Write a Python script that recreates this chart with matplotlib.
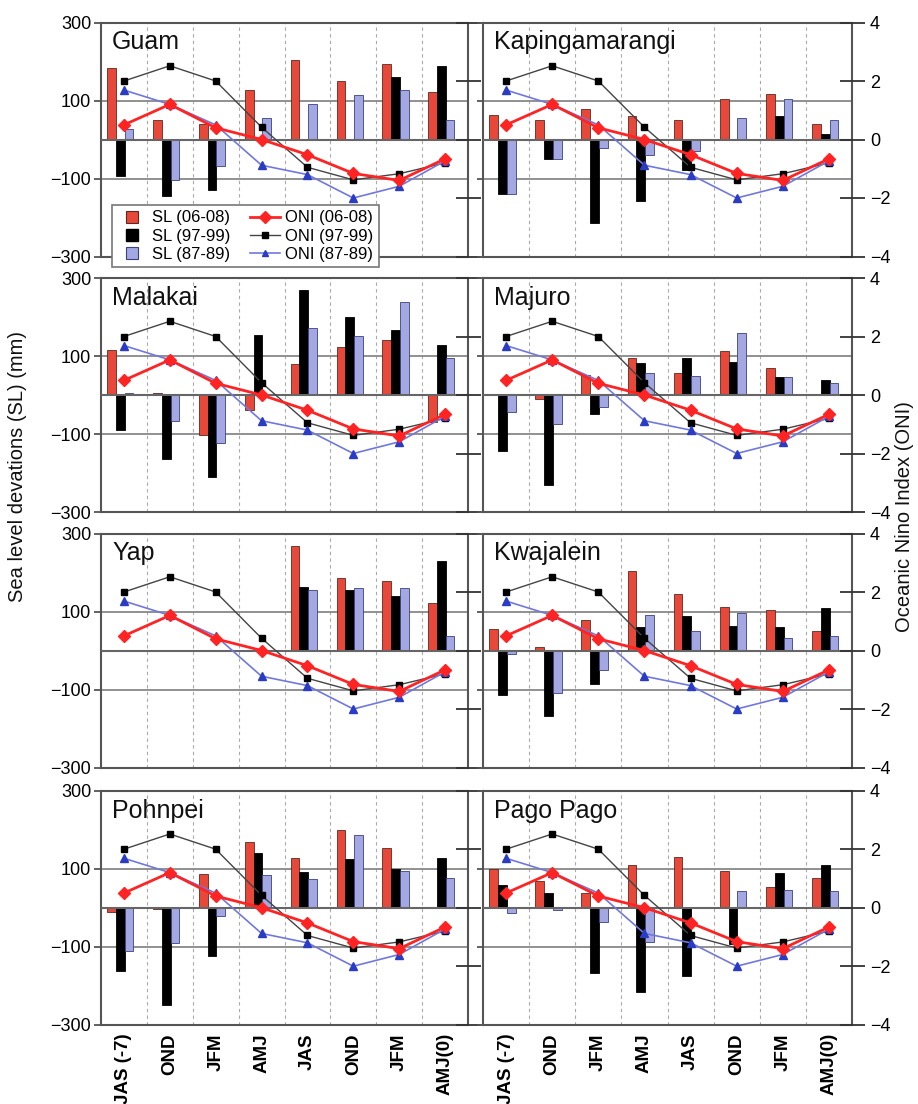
import numpy as np
import matplotlib.pyplot as plt
from matplotlib.lines import Line2D

plt.rcParams['font.family'] = ['Liberation Sans', 'DejaVu Sans']

nan = np.nan

# seasons (x axis)
months = ["JAS (-7)", "OND", "JFM", "AMJ", "JAS", "OND", "JFM", "AMJ(0)"]

# Oceanic Nino Index, same in every panel
oni_0608 = [0.5, 1.2, 0.4, 0.0, -0.52, -1.16, -1.4, -0.66]
oni_9799 = [2.0, 2.52, 2.0, 0.42, -0.95, -1.38, -1.17, -0.8]
oni_8789 = [1.69, 1.2, 0.5, -0.88, -1.2, -2.0, -1.6, -0.73]

# sea level deviations (mm) per station
guam_0608 = [183, 49, 40, 128, 204, 149, 194, 123]
guam_9799 = [-94, -144, -129, nan, nan, nan, 160, 188]
guam_8789 = [27, -105, -69, 55, 90, 115, 126, 51]

kap_0608 = [62, 51, 79, 60, 51, 103, 117, 40]
kap_9799 = [-141, -51, -215, -158, -77, -2, 60, 15]
kap_8789 = [-141, -51, -23, -41, -30, 54, 103, 49]

mal_0608 = [115, 5, -103, -38, 79, 124, 141, -68]
mal_9799 = [-90, -164, -209, 154, 268, 201, 167, 128]
mal_8789 = [6, -67, -124, nan, 171, 151, 238, 94]

maj_0608 = [nan, -11, 51, 94, 56, 113, 68, nan]
maj_9799 = [-144, -231, -49, 83, 96, 85, 45, 38]
maj_8789 = [-44, -75, -32, 56, 50, 160, 47, 30]

yap_0608 = [nan, nan, nan, nan, 268, 185, 179, 123]
yap_9799 = [nan, nan, nan, nan, 164, 156, 139, 229]
yap_8789 = [nan, nan, nan, nan, 156, 159, 159, 37]

kwa_0608 = [55, 8, 78, 204, 146, 112, 103, 50]
kwa_9799 = [-113, -168, -86, 61, 88, 62, 59, 108]
kwa_8789 = [-8, -108, -50, 92, 50, 97, 33, 37]

poh_0608 = [-10, -4, 86, 168, 128, 199, 154, nan]
poh_9799 = [-162, -250, -124, 141, 91, 125, 98, 128]
poh_8789 = [-111, -91, -21, 85, 74, 186, 95, 77]

pago_0608 = [98, 68, 37, 110, 130, 94, 52, 76]
pago_9799 = [58, 37, -168, -217, -176, -94, 89, 109]
pago_8789 = [-13, -7, -37, -87, nan, 42, 45, 43]

stations = [
    ("Guam", guam_0608, guam_9799, guam_8789),
    ("Kapingamarangi", kap_0608, kap_9799, kap_8789),
    ("Malakai", mal_0608, mal_9799, mal_8789),
    ("Majuro", maj_0608, maj_9799, maj_8789),
    ("Yap", yap_0608, yap_9799, yap_8789),
    ("Kwajalein", kwa_0608, kwa_9799, kwa_8789),
    ("Pohnpei", poh_0608, poh_9799, poh_8789),
    ("Pago Pago", pago_0608, pago_9799, pago_8789),
]

red = '#e8483a'
blue_bar = '#a3a8e2'
red_line = '#ff2424'
blue_line = '#7178dc'
blue_mk = '#2a3cc4'

W, H = 918, 1104
fig = plt.figure(figsize=(W / 100, H / 100), dpi=100)

col_left = [101, 483]
col_width = [367, 369]
row_top = [22.5, 278, 533.5, 790.7]
ax_h = 234

x = np.arange(len(months))
bw = 0.19

for k, (name, sl1, sl2, sl3) in enumerate(stations):
    row, col = k // 2, k % 2
    rect = [col_left[col] / W, 1 - (row_top[row] + ax_h) / H,
            col_width[col] / W, ax_h / H]
    ax = fig.add_axes(rect)
    ax.set_xlim(-0.5, 7.5)
    ax.set_ylim(-300, 300)

    # grid
    for xv in np.arange(0.5, 7.5, 1):
        ax.axvline(xv, color='#aaaaaa', lw=0.8, ls=(0, (3, 3)), zorder=0)
    for yv in (-100, 100):
        ax.axhline(yv, color='#888888', lw=1.3, zorder=1)
    ax.axhline(0, color='#666666', lw=1.5, zorder=3)

    ax.bar(x - 0.27, sl1, bw, color=red, edgecolor='#5a2a20', lw=0.6, zorder=2)
    ax.bar(x - 0.08, sl2, bw, color='black', edgecolor='black', lw=0.6, zorder=2)
    ax.bar(x + 0.11, sl3, bw, color=blue_bar, edgecolor='#3a4080', lw=0.6, zorder=2)

    for s in ax.spines.values():
        s.set_color('#555555')
        s.set_linewidth(1.5)

    ax.set_yticks([-300, -100, 100, 300])
    ax.set_xticks(x)
    if col == 0:
        ax.tick_params(axis='y', direction='out', length=5, width=1.3,
                       color='#555555', labelsize=13, pad=2)
    else:
        ax.tick_params(axis='y', direction='out', length=4, width=1.3,
                       color='#555555', labelleft=False)
    if row == 3:
        ax.set_xticklabels(months, rotation=90, fontsize=13.5, fontweight='bold')
        ax.tick_params(axis='x', length=0, pad=6)
    else:
        ax.tick_params(axis='x', length=0, labelbottom=False)

    ax.text(0.03, 0.885, name, transform=ax.transAxes, fontsize=18,
            ha='left', va='baseline', color='#111111', zorder=5)

    ax2 = ax.twinx()
    ax2.set_ylim(-4, 4)
    ax2.set_yticks([-4, -2, 0, 2, 4])
    ax2.tick_params(axis='y', direction='inout', length=18, width=1.3,
                    color='#333333', labelsize=13, pad=4,
                    labelright=(col == 1))
    for s in ax2.spines.values():
        s.set_visible(False)

    ax2.plot(x, oni_9799, color='#444444', lw=1.0, marker='s', ms=4.5,
             mfc='black', mec='black', zorder=3)
    ax2.plot(x, oni_8789, color=blue_line, lw=1.2, marker='^', ms=5.5,
             mfc=blue_mk, mec=blue_mk, zorder=3)
    ax2.plot(x, oni_0608, color=red_line, lw=2.0, marker='D', ms=6.5,
             mfc=red_line, mec=red_line, zorder=4)

    if k == 0:
        handles = [
            Line2D([], [], ls='none', marker='s', ms=9, mfc=red, mec='#5a2a20', mew=0.8),
            Line2D([], [], ls='none', marker='s', ms=9, mfc='black', mec='black'),
            Line2D([], [], ls='none', marker='s', ms=9, mfc=blue_bar, mec='#3a4080', mew=0.8),
            Line2D([], [], color=red_line, lw=2.0, marker='D', ms=6, mfc=red_line, mec=red_line),
            Line2D([], [], color='#444444', lw=1.0, marker='s', ms=4.5, mfc='black', mec='black'),
            Line2D([], [], color=blue_line, lw=1.2, marker='^', ms=5, mfc=blue_mk, mec=blue_mk),
        ]
        labels = ["SL (06-08)", "SL (97-99)", "SL (87-89)",
                  "ONI (06-08)", "ONI (97-99)", "ONI (87-89)"]
        leg = ax2.legend(handles, labels, ncol=2, loc='lower left',
                         bbox_to_anchor=(0.03, -0.045), fontsize=12,
                         frameon=True, fancybox=False, framealpha=1,
                         edgecolor='#777777', handlelength=1.8,
                         handletextpad=0.3, columnspacing=1.2,
                         labelspacing=0.2, borderpad=0.3, borderaxespad=0)
        leg.get_frame().set_linewidth(1.2)
        leg.set_zorder(10)

fig.text(18 / W, 1 - 467 / H, "Sea level devations (SL) (mm)", rotation=90,
         ha='center', va='center', fontsize=14.5, color='#111111')
fig.text(904 / W, 1 - 517 / H, "Oceanic Nino Index (ONI)", rotation=90,
         ha='center', va='center', fontsize=14.5, color='#111111')

fig.savefig('out.png', dpi=100)
